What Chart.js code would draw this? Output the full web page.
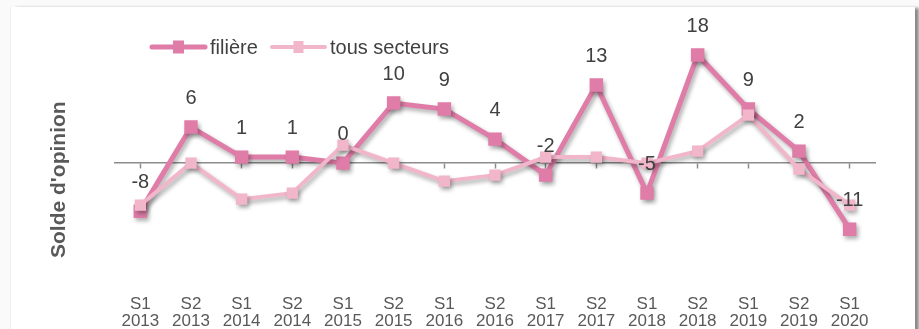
<!DOCTYPE html>
<html lang="fr">
<head>
<meta charset="utf-8">
<title>Solde d'opinion</title>
<script src="https://cdn.jsdelivr.net/npm/chart.js@4"></script>
<style>
  html, body { margin: 0; padding: 0; background: #fafafa; }
  #card {
    position: absolute; left: 10px; top: 7px; width: 904px; height: 330px;
    background: #fff; border-left: 1px solid #f0f0f0;
    box-shadow: 5px 0 3px -1px rgba(0, 0, 0, 0.45);
  }
  #lineChart { position: absolute; left: 0; top: 0; }
</style>
</head>
<body>
<div id="card"></div>
<canvas id="lineChart" width="919" height="329"></canvas>
<script>
var semestres = ['S1', 'S2', 'S1', 'S2', 'S1', 'S2', 'S1', 'S2', 'S1', 'S2', 'S1', 'S2', 'S1', 'S2', 'S1'];
var annees = ['2013', '2013', '2014', '2014', '2015', '2015', '2016', '2016', '2017', '2017', '2018', '2018', '2019', '2019', '2020'];
var filiere = [-8, 6, 1, 1, 0, 10, 9, 4, -2, 13, -5, 18, 9, 2, -11];
var tousSecteurs = [-7, 0, -6, -5, 3, 0, -3, -2, 1, 1, 0, 2, 8, -1, -7];

var couleurFiliere = '#e07ca8';
var couleurTous = '#f2b6cb';
var police = "'Liberation Sans', Arial, sans-serif";

// soft drop shadow under lines and markers
var ombre = {
    id: 'ombre',
    beforeDatasetsDraw: function (chart) {
        var c = chart.ctx;
        c.save();
        c.shadowColor = 'rgba(0, 0, 0, 0.32)';
        c.shadowBlur = 4;
        c.shadowOffsetX = 2;
        c.shadowOffsetY = 3;
    },
    afterDatasetsDraw: function (chart) {
        chart.ctx.restore();
    }
};

// values written above the filière points
var etiquettes = {
    id: 'etiquettes',
    afterDatasetsDraw: function (chart) {
        var c = chart.ctx;
        var meta = chart.getDatasetMeta(0);
        c.save();
        c.font = '20px ' + police;
        c.fillStyle = '#404040';
        c.textAlign = 'center';
        c.textBaseline = 'middle';
        meta.data.forEach(function (pt, i) {
            c.fillText(String(filiere[i]), pt.x, pt.y - 29);
        });
        c.restore();
    }
};

// legend with line + square sample
var legende = {
    id: 'legende',
    afterDraw: function (chart) {
        var c = chart.ctx;
        var items = [
            { txt: 'filière', col: couleurFiliere, w: 5, sq: 11, x: 152 },
            { txt: 'tous secteurs', col: couleurTous, w: 4, sq: 10, x: 272 }
        ];
        var y = 47;
        c.save();
        c.font = '20px ' + police;
        c.textBaseline = 'middle';
        items.forEach(function (it) {
            c.strokeStyle = it.col;
            c.lineWidth = it.w;
            c.lineCap = 'round';
            c.beginPath();
            c.moveTo(it.x, y);
            c.lineTo(it.x + 53, y);
            c.stroke();
            c.fillStyle = it.col;
            c.fillRect(it.x + 26.5 - it.sq / 2, y - it.sq / 2 - 1, it.sq, it.sq + 2);
            c.fillStyle = '#404040';
            c.fillText(it.txt, it.x + 58, y + 1);
        });
        c.restore();
    }
};

var ctx = document.getElementById('lineChart');
var chart = new Chart(ctx, {
    type: 'line',
    data: {
        labels: semestres.map(function (s, i) { return [s, annees[i]]; }),
        datasets: [
            {
                label: 'filière',
                data: filiere,
                order: 1,
                borderColor: couleurFiliere,
                backgroundColor: couleurFiliere,
                borderWidth: 5,
                lineTension: 0,
                pointStyle: 'rect',
                pointRadius: 9.5,
                pointBorderWidth: 0,
                pointBackgroundColor: couleurFiliere
            },
            {
                label: 'tous secteurs',
                data: tousSecteurs,
                order: 0,
                borderColor: couleurTous,
                backgroundColor: couleurTous,
                borderWidth: 4,
                lineTension: 0,
                pointStyle: 'rect',
                pointRadius: 8,
                pointBorderWidth: 0,
                pointBackgroundColor: couleurTous
            }
        ]
    },
    options: {
        responsive: false,
        animation: false,
        devicePixelRatio: 1,
        layout: { padding: { left: 44, right: 44, top: 31, bottom: 0 } },
        plugins: {
            legend: { display: false },
            tooltip: { enabled: false }
        },
        scales: {
            x: {
                offset: true,
                afterFit: function (scale) { scale.height = 71; },
                grid: { display: false, drawTicks: false },
                border: { display: false },
                ticks: {
                    padding: 37,
                    maxRotation: 0,
                    autoSkip: false,
                    color: '#595959',
                    font: { family: police, size: 17, lineHeight: 1.05 }
                }
            },
            // zero line with its tick marks
            axe0: {
                type: 'category',
                axis: 'x',
                position: { y: 0 },
                offset: true,
                afterFit: function (scale) { scale.height = 0; },
                grid: {
                    display: true,
                    offset: false,
                    drawOnChartArea: false,
                    drawTicks: true,
                    tickLength: 5,
                    tickWidth: 1.5,
                    tickColor: '#8c8c8c'
                },
                border: { display: true, color: '#8c8c8c', width: 1.5 },
                ticks: { display: false }
            },
            y: {
                min: -15.8,
                max: 22,
                grid: { display: false },
                border: { display: false },
                ticks: { display: false },
                afterFit: function (scale) { scale.width = 71; },
                title: {
                    display: true,
                    text: "Solde d'opinion",
                    align: 'start',
                    color: '#595959',
                    font: { family: police, size: 21, weight: 'bold' },
                    padding: { top: 3, bottom: 4 }
                }
            }
        }
    },
    plugins: [ombre, etiquettes, legende]
});
</script>
</body>
</html>
